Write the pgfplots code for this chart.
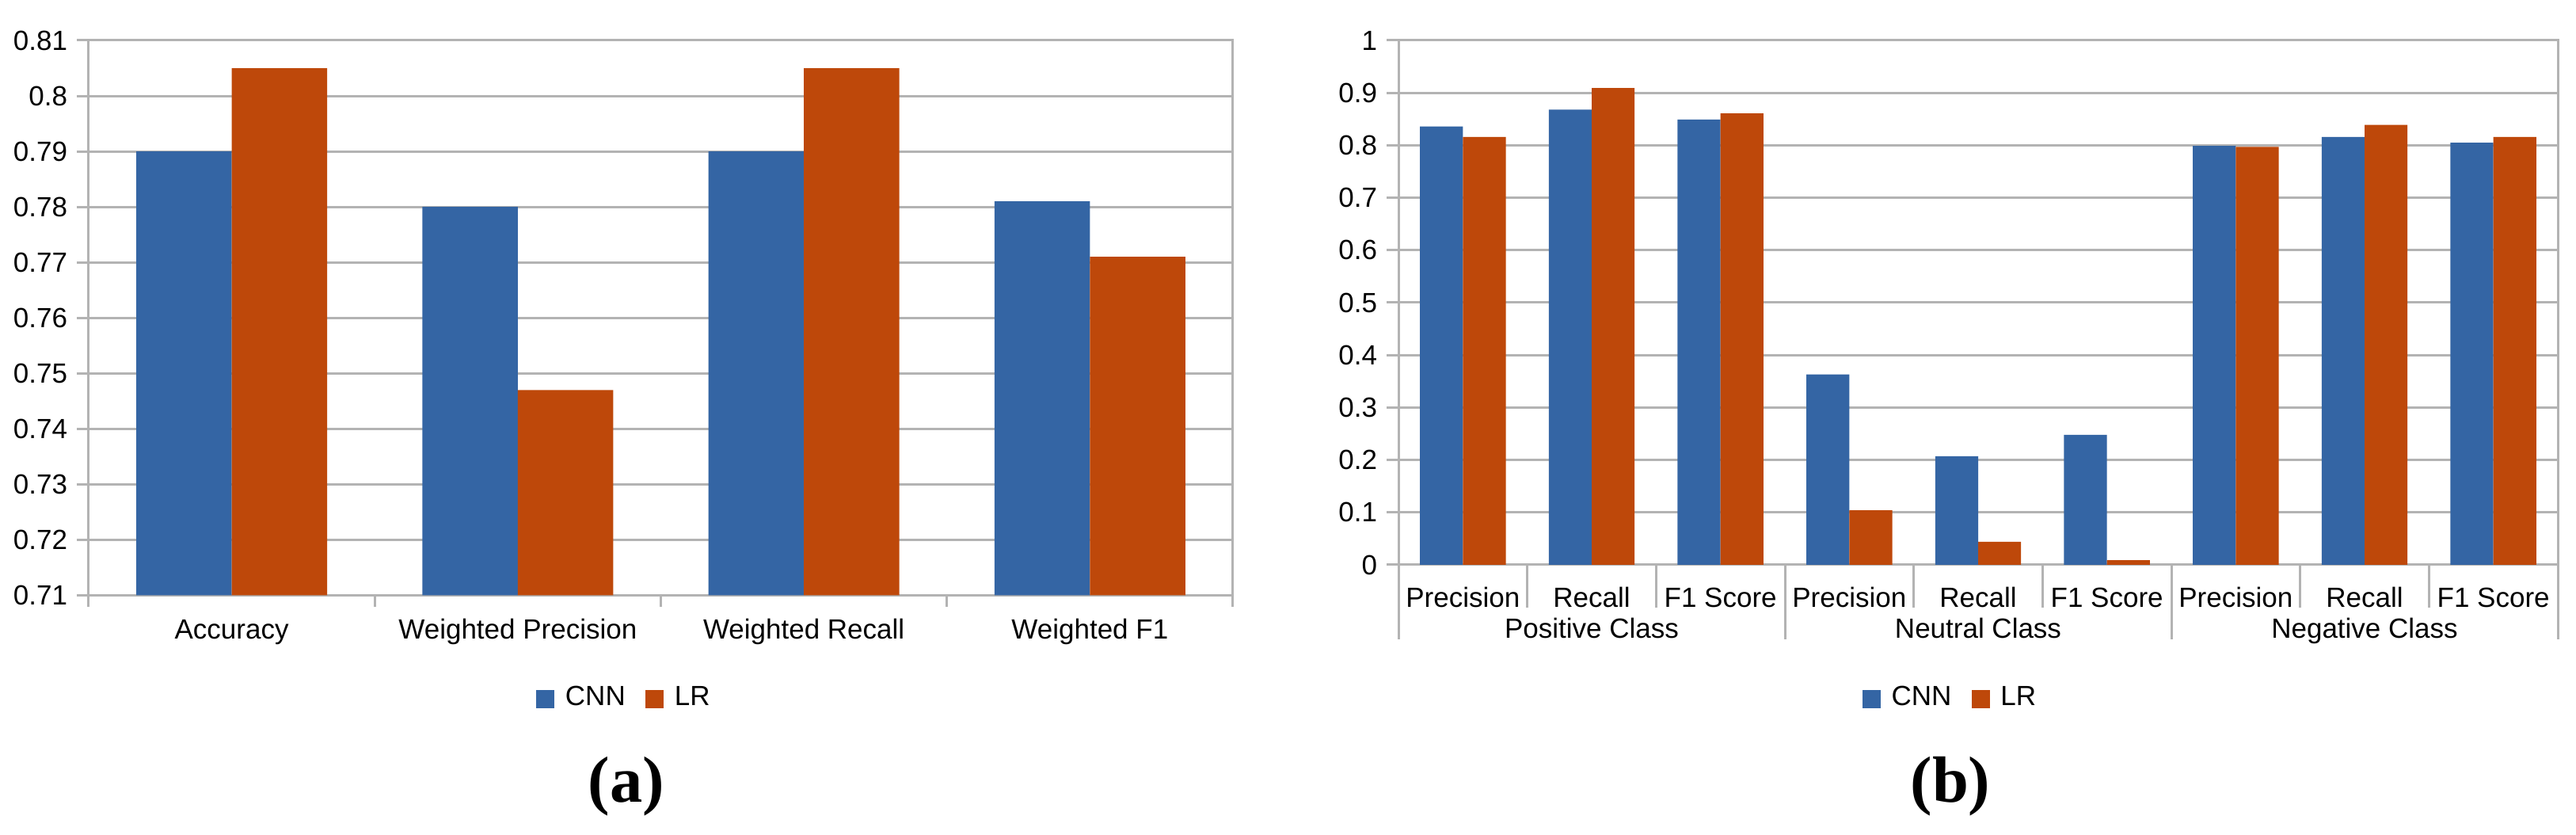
\documentclass[border=0pt]{standalone}
\usepackage{fontspec}
\setmainfont{Liberation Sans}
\newfontfamily\capfont{Liberation Serif}
\usepackage{pgfplots}
\pgfplotsset{compat=1.18}
\definecolor{cnnblue}{RGB}{52,101,164}
\definecolor{lrorange}{RGB}{190,72,10}
\definecolor{gridgray}{RGB}{179,179,179}
\pgfplotsset{
  mystyle/.style={
    scale only axis,
    anchor=south west,
    axis line style={gridgray, line width=0.6pt},
    ymajorgrids,
    grid style={gridgray, line width=0.6pt},
    tick style={gridgray, line width=0.6pt},
    tick align=outside,
    xtick pos=lower, ytick pos=left,
    major tick length=3pt,
    major x tick style={draw=none},
    tick label style={font=\fontsize{7}{8}\selectfont, text=black},
    /pgf/number format/assume math mode=true,
    enlargelimits=false,
    xticklabel style={anchor=base, inner sep=0pt},
    yticklabel style={inner sep=0pt, xshift=-2.2pt},
    legend columns=2,
    legend style={draw=none, fill=none, font=\fontsize{7}{8}\selectfont, anchor=center,
      inner sep=0pt, nodes={inner sep=0.5pt},
      /tikz/every odd column/.append style={column sep=2.2pt},
      /tikz/every even column/.append style={column sep=4.6pt}},
  }
}
\begin{document}
\begin{tikzpicture}
\useasboundingbox (0,0) rectangle (650.6pt,210.8pt);
% ---------- (a) ----------
\begin{axis}[mystyle,
  at={(22.4pt,60.5pt)},
  width=289pt, height=140.1pt,
  xmin=-0.5, xmax=3.5, ymin=0.71, ymax=0.81,
  ytick={0.71,0.72,0.73,0.74,0.75,0.76,0.77,0.78,0.79,0.8,0.81},
  xtick={0,1,2,3},
  xticklabels={Accuracy,Weighted Precision,Weighted Recall,Weighted F1},
  minor xtick={-0.5,0.5,1.5,2.5,3.5},
  minor tick length=3pt,
  xticklabel style={yshift=-8.1pt},
  legend style={at={(0.468,-0.187)}},
]
\addplot[ybar, bar width=24.083pt, bar shift=-12.042pt, fill=cnnblue, draw=none, forget plot]
  coordinates {(0,0.790) (1,0.780) (2,0.790) (3,0.781)};
\addplot[ybar, bar width=24.083pt, bar shift=12.042pt, fill=lrorange, draw=none, forget plot]
  coordinates {(0,0.805) (1,0.747) (2,0.805) (3,0.771)};
\addlegendimage{legend image code/.code={\fill[cnnblue] (0pt,-2.1pt) rectangle (4.2pt,2.1pt);}}
\addlegendentry{CNN}
\addlegendimage{legend image code/.code={\fill[lrorange] (0pt,-2.1pt) rectangle (4.2pt,2.1pt);}}
\addlegendentry{LR}
\end{axis}
% ---------- (b) ----------
\begin{axis}[mystyle,
  at={(353.2pt,68.2pt)},
  width=292.8pt, height=132.4pt,
  clip=false,
  xmin=-0.5, xmax=8.5, ymin=0, ymax=1,
  ytick={0,0.1,0.2,0.3,0.4,0.5,0.6,0.7,0.8,0.9,1},
  xtick={0,1,2,3,4,5,6,7,8},
  xticklabels={Precision,Recall,F1 Score,Precision,Recall,F1 Score,Precision,Recall,F1 Score},
  minor xtick={-0.5,0.5,1.5,2.5,3.5,4.5,5.5,6.5,7.5,8.5},
  minor tick length=10.8pt,
  xticklabel style={yshift=-7.8pt},
  legend style={at={(0.476,-0.256)}},
]
\addplot[ybar, bar width=10.844pt, bar shift=-5.422pt, fill=cnnblue, draw=none, forget plot]
  coordinates {(0,0.836) (1,0.868) (2,0.849) (3,0.363) (4,0.207) (5,0.248) (6,0.799) (7,0.816) (8,0.805)};
\addplot[ybar, bar width=10.844pt, bar shift=5.422pt, fill=lrorange, draw=none, forget plot]
  coordinates {(0,0.816) (1,0.909) (2,0.861) (3,0.104) (4,0.044) (5,0.009) (6,0.797) (7,0.839) (8,0.816)};
\addlegendimage{legend image code/.code={\fill[cnnblue] (0pt,-2.1pt) rectangle (4.2pt,2.1pt);}}
\addlegendentry{CNN}
\addlegendimage{legend image code/.code={\fill[lrorange] (0pt,-2.1pt) rectangle (4.2pt,2.1pt);}}
\addlegendentry{LR}
\draw[gridgray, line width=0.6pt] (axis cs:-0.5,0) -- ++(0pt,-18.8pt);
\draw[gridgray, line width=0.6pt] (axis cs:2.5,0) -- ++(0pt,-18.8pt);
\draw[gridgray, line width=0.6pt] (axis cs:5.5,0) -- ++(0pt,-18.8pt);
\draw[gridgray, line width=0.6pt] (axis cs:8.5,0) -- ++(0pt,-18.8pt);
\node[anchor=base, font=\fontsize{7}{8}\selectfont, inner sep=0pt, yshift=-18.6pt] at (axis cs:1,0) {Positive Class};
\node[anchor=base, font=\fontsize{7}{8}\selectfont, inner sep=0pt, yshift=-18.6pt] at (axis cs:4,0) {Neutral Class};
\node[anchor=base, font=\fontsize{7}{8}\selectfont, inner sep=0pt, yshift=-18.6pt] at (axis cs:7,0) {Negative Class};
\end{axis}
\node[anchor=base, inner sep=0pt, font=\capfont\bfseries\fontsize{16.5}{20}\selectfont] at (158.2pt,8.2pt) {(a)};
\node[anchor=base, inner sep=0pt, font=\capfont\bfseries\fontsize{16.5}{20}\selectfont] at (492.6pt,8.2pt) {(b)};
\end{tikzpicture}
\end{document}
